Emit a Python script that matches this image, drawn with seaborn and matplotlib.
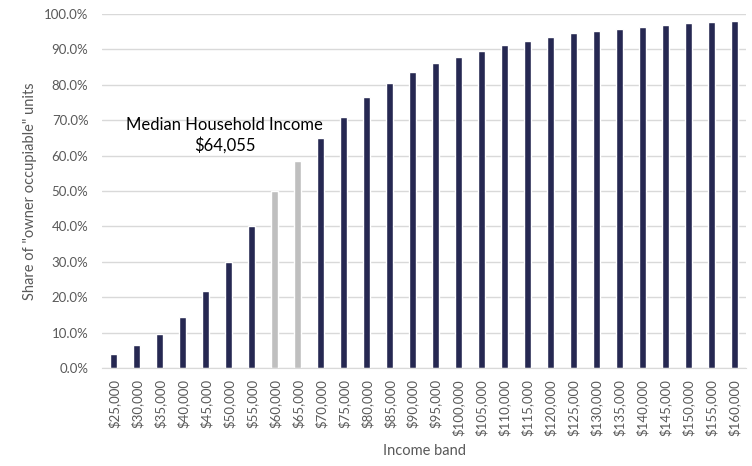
import pandas as pd
import matplotlib.pyplot as plt
import seaborn as sns
from matplotlib.ticker import PercentFormatter

# income bands and share of "owner occupiable" units
bands = ["$25,000", "$30,000", "$35,000", "$40,000", "$45,000", "$50,000", "$55,000",
         "$60,000", "$65,000", "$70,000", "$75,000", "$80,000", "$85,000", "$90,000",
         "$95,000", "$100,000", "$105,000", "$110,000", "$115,000", "$120,000", "$125,000",
         "$130,000", "$135,000", "$140,000", "$145,000", "$150,000", "$155,000", "$160,000"]
share = [3.9, 6.6, 9.7, 14.5, 21.7, 30.1, 40.1,
         50.0, 58.4, 65.0, 71.0, 76.5, 80.5, 83.7,
         86.1, 87.9, 89.6, 91.2, 92.4, 93.5, 94.5,
         95.2, 95.8, 96.4, 96.9, 97.4, 97.7, 97.9]
median_bands = ["$60,000", "$65,000"]

df = pd.DataFrame({"band": bands, "share": share})

sns.set_style("white")
plt.rcParams['font.family'] = ['Lato', 'DejaVu Sans']

navy = "#262852"
grey = "#BFBFBF"
palette = {b: (grey if b in median_bands else navy) for b in bands}

fig = plt.figure(figsize=(7.52, 4.66), dpi=100)
ax = fig.add_axes([0.136, 0.21, 0.856, 0.76])

sns.barplot(data=df, x="band", y="share", hue="band", palette=palette,
            legend=False, width=0.32, saturation=1, ax=ax)

ax.set_ylim(0, 100)
ax.set_yticks(range(0, 101, 10))
ax.yaxis.set_major_formatter(PercentFormatter(decimals=1))
ax.grid(axis="y", color="#D9D9D9", linewidth=1)
ax.set_axisbelow(True)
for s in ["top", "right", "left"]:
    ax.spines[s].set_visible(False)
ax.spines["bottom"].set_color("#D9D9D9")

ax.tick_params(axis="both", length=0, colors="#595959", labelsize=9.5)
ax.tick_params(axis="y", pad=10)
ax.tick_params(axis="x", pad=8)
plt.setp(ax.get_xticklabels(), rotation=90)

ax.set_xlabel("Income band", color="#595959", fontsize=10.5, labelpad=6)
ax.set_ylabel('Share of "owner occupiable" units', color="#595959", fontsize=10.5, labelpad=5)

ax.text(4.83, 65.7, "Median Household Income\n$64,055", ha="center", va="center",
        fontsize=12, color="#000000", linespacing=1.3)

plt.savefig("out.png", dpi=100)
